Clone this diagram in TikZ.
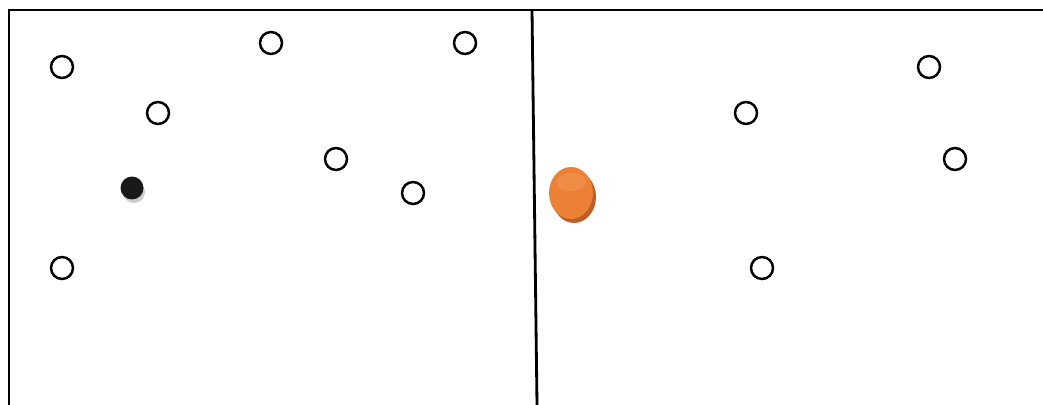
\documentclass[tikz,border=0pt]{standalone}
\usepackage{tikz}
\usetikzlibrary{shapes.geometric}
\definecolor{qorange}{RGB}{236,128,52}
\definecolor{qorangedark}{RGB}{185,95,40}
\definecolor{qorangelight}{RGB}{245,165,105}

\begin{document}
\begin{tikzpicture}[x=0.02cm,y=-0.02cm]
  \tikzset{
    pt/.style={circle,draw=black,line width=1.4pt,fill=white,minimum size=0.44cm,inner sep=0pt},
    query/.style={ellipse,fill=qorange,minimum width=0.88cm,minimum height=1.04cm,inner sep=0pt},
    hit/.style={circle,fill=black!90,minimum size=0.46cm,inner sep=0pt}
  }
  \useasboundingbox (0,0) rectangle (1043,405);
  % Frame
  \draw[line width=1.6pt] (9,405) -- (9,10) -- (1043,10);
  \draw[line width=1.6pt] (532,10) -- (537,405);
  % Left half
  \foreach \i/\x/\y in {1/62/67,2/271/43,3/465/43,4/158/113,5/336/159,6/413/193,7/62/268} {
    \node[pt] (l\i) at (\x,\y) {};
  }
  % Nearest point
  \fill[black!20] (134,192) circle (11);
  \node[hit] (near) at (132,188) {};
  % Right half
  \foreach \i/\x/\y in {1/929/67,2/746/113,3/955/159,4/762/268} {
    \node[pt] (r\i) at (\x,\y) {};
  }
  % Query point
  \fill[qorangedark] (574,197) ellipse (22 and 26);
  \node[query] (q) at (571,193) {};
  \fill[qorangelight,opacity=0.35] (571,182) ellipse (15 and 9);
\end{tikzpicture}
\end{document}
